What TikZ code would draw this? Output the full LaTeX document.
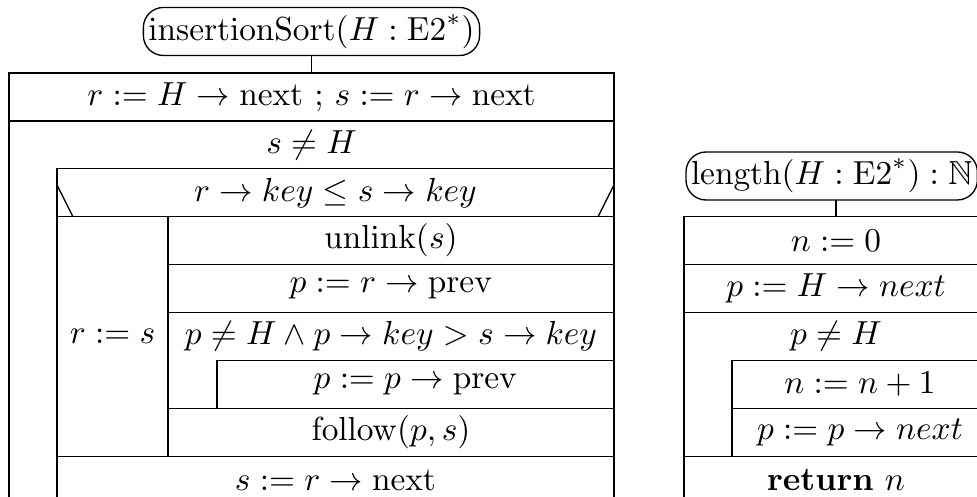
\documentclass[tikz,border=0pt]{standalone}
\usepackage{amssymb}
\begin{document}
\begin{tikzpicture}[x=0.3pt, y=-0.3pt, thin,
		cell/.style={draw, anchor=north west, inner sep=0pt, outer sep=0pt, minimum height=47.9*0.3pt, minimum width=#1*0.3pt},
		head/.style={anchor=north west, inner sep=0pt, outer sep=0pt, minimum height=47.9*0.3pt, minimum width=#1*0.3pt},
		title/.style={draw, rounded corners=6pt, inner xsep=1.5pt, inner ysep=0pt, outer sep=0pt, minimum height=48*0.3pt}]
		\clip (0,0) rectangle (977,497);
		\node[title] (sortT) at (311.5,31.5) {$\mathrm{insertionSort}(H : \mathrm{E2}^*)$};
		\node[cell=605] (init) at (9,73) {$r := H \rightarrow \mathrm{next}$ ; $s := r \rightarrow \mathrm{next}$};
		\draw (sortT) -- (init);
		\draw (9,120.9) rectangle (614,540);
		\node[head=605] (outerH) at (9,120.9) {$s \neq H$};
		\node[cell=557] (ifH) at (57,168.8) {$r \rightarrow key \leq s \rightarrow key$};
		\draw (ifH.north west) ++(0,16) -- ++(16,32);
		\draw (ifH.north east) ++(0,16) -- ++(-16,32);
		\node[cell=111, minimum height=239.5*0.3pt] (thenB) at (57,216.7) {$r := s$};
		\node[cell=446] (unl) at (168,216.7) {$\mathrm{unlink}(s)$};
		\node[cell=446] (setP) at (168,264.6) {$p := r \rightarrow \mathrm{prev}$};
		\draw (168,312.5) rectangle (614,408.3);
		\node[head=446] (innerH) at (168,312.5) {$p \neq H \wedge p \rightarrow key > s \rightarrow key$};
		\node[cell=397] (back) at (217,360.4) {$p := p \rightarrow \mathrm{prev}$};
		\node[cell=446] (fol) at (168,408.3) {$\mathrm{follow}(p, s)$};
		\node[cell=557] (adv) at (57,456.2) {$s := r \rightarrow \mathrm{next}$};
		\node[title, anchor=west] (lenT) at (686,176) {$\mathrm{length}(H : \mathrm{E2}^*) : \mathbb{N}$};
		\node[cell=304] (zero) at (684,216.7) {$n := 0$};
		\draw (zero.north |- lenT.south) -- (zero.north);
		\node[cell=304] (first) at (684,264.6) {$p := H \rightarrow next$};
		\draw (684,312.5) rectangle (988,456.2);
		\node[head=304] (lenH) at (684,312.5) {$p \neq H$};
		\node[cell=256] (inc) at (732,360.4) {$n := n + 1$};
		\node[cell=256] (step) at (732,408.3) {$p := p \rightarrow next$};
		\node[cell=304] (ret) at (684,456.2) {\textbf{return} $n$};
	\end{tikzpicture}
\end{document}
